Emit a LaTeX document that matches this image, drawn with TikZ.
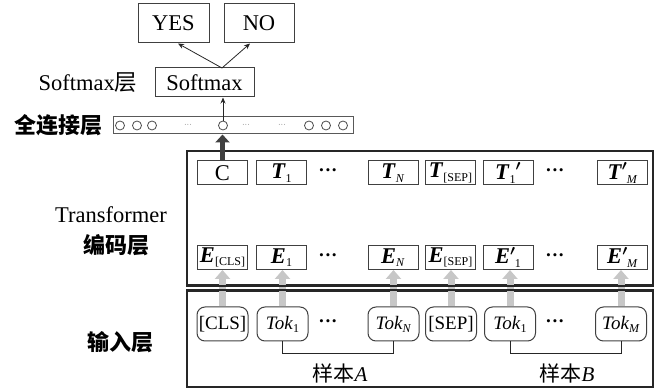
\documentclass[tikz,border=0pt]{standalone}
\usepackage{fontspec}
\setmainfont{Liberation Serif}
\newfontfamily\cjk{Noto Sans CJK SC}
\usetikzlibrary{arrows.meta,calc}
\newcommand\sbs[1]{\raisebox{-0.35ex}{\fontsize{12}{12}\selectfont #1}}
\newcommand\bi[1]{\textbf{\textit{#1}}}
\newcommand\prm{\raisebox{0.1ex}{\boldmath$'$}}
\newcommand\prsub[1]{\prm\hspace{-0.5pt}\sbs{#1}}
\begin{document}
\begin{tikzpicture}[x=1pt,y=-1pt,
  every node/.style={font=\fontsize{22.5}{26}\selectfont, inner sep=0pt},
  box/.style={draw=black!75, line width=1pt, minimum width=50pt, minimum height=24pt},
  tok/.style={draw=black!75, line width=1pt, rounded corners=8pt, minimum width=51pt, minimum height=34pt, font=\fontsize{19}{22}\selectfont},
  bigbox/.style={draw=black!85, line width=2pt},
  lbl/.style={font=\cjk\bfseries\fontsize{22}{26}\selectfont},
  circ/.style={circle, draw=black!70, line width=0.8pt, minimum size=9pt},
  thin/.style={draw=black!85, line width=0.8pt, -{Stealth[length=6pt,width=5pt]}},
  grayarrow/.style={draw=black!22, line width=7pt, -{Triangle[length=9pt,width=15pt]}},
  darkarrow/.style={draw=black!75, line width=5pt, -{Triangle[length=8pt,width=14pt]}},
  bardots/.style={font=\fontsize{8}{8}\selectfont, text=black!50},
  dots/.style={font=\fontsize{19}{22}\selectfont\bfseries}
]
\useasboundingbox (0,0) rectangle (657,390);

% output layer
\node[draw=black!75, line width=1pt, minimum width=71pt, minimum height=39pt] (yes) at (173.5,23.5) {YES};
\node[draw=black!75, line width=1pt, minimum width=70pt, minimum height=39pt] (no) at (259,23.5) {NO};
\node[draw=black!75, line width=1pt, minimum width=99pt, minimum height=29pt] (sm) at (204.5,82.5) {Softmax};
\node (smlbl) at (88,83) {Softmax{\cjk 层}};
\coordinate (fork) at (222,68);
\draw[thin] (fork) -- (yes.south -| 178,0);
\draw[thin] (fork) -- (no.south -| 250,0);

% fully connected layer
\node[draw=black!65, line width=1pt, minimum width=240pt, minimum height=17pt] (bar) at (233.5,125.5) {};
\node[lbl] (fclbl) at (59,125) {全连接层};
\node[circ] (c1) at (120,125.5) {};
\node[circ] (c2) at (137,125.5) {};
\node[circ] (c3) at (152,125.5) {};
\node[circ] (c4) at (223,125.5) {};
\node[circ] (c5) at (309,125.5) {};
\node[circ] (c6) at (326,125.5) {};
\node[circ] (c7) at (343,125.5) {};
\node[bardots] (bd1) at (188,125.5) {···};
\node[bardots] (bd2) at (246,125.5) {···};
\node[bardots] (bd3) at (282,125.5) {···};
\draw[thin] (c4.north) -- (c4.north |- sm.south);

% big boxes
\node[bigbox, minimum width=466pt, minimum height=134pt] (enc) at (420,218) {};
\node[bigbox, minimum width=466pt, minimum height=96pt] (inp) at (420,339) {};
\node (trlbl) at (111,215) {Transformer};
\node[lbl] (enclbl) at (116,245) {编码层};
\node[lbl] (inplbl) at (120,342) {输入层};

% tokens
\node[tok] (k1) at (222.5,324) {[CLS]};
\node[tok] (k2) at (282.5,324) {\textit{Tok}\sbs{1}};
\node[dots] (kd1) at (328,324) {···};
\node[tok] (k3) at (393.5,324) {\textit{Tok}\sbs{\textit{N}}};
\node[tok] (k4) at (451,324) {[SEP]};
\node[tok] (k5) at (510,324) {\textit{Tok}\sbs{1}};
\node[dots] (kd2) at (555,324) {···};
\node[tok] (k6) at (621,324) {\textit{Tok}\sbs{\textit{M}}};

% E row
\node[box] (e1) at (222.5,257.5) {\bi{E}\sbs{[CLS]}};
\node[box] (e2) at (281.5,257.5) {\bi{E}\sbs{1}};
\node[dots] (ed1) at (328,257.5) {···};
\node[box] (e3) at (393,257.5) {\bi{E}\sbs{\textit{N}}};
\node[box] (e4) at (450.5,257.5) {\bi{E}\sbs{[SEP]}};
\node[box] (e5) at (508,257.5) {\bi{E}\prsub{1}};
\node[dots] (ed2) at (555,257.5) {···};
\node[box] (e6) at (622.5,257.5) {\bi{E}\prsub{\textit{M}}};

% T row
\node[box] (t1) at (222.5,173) {C};
\node[box] (t2) at (281.5,173) {\bi{T}\sbs{1}};
\node[dots] (td1) at (328,173) {···};
\node[box] (t3) at (393,173) {\bi{T}\sbs{\textit{N}}};
\node[box] (t4) at (450.5,173) {\bi{T}\sbs{[SEP]}};
\node[box] (t5) at (508,173) {\bi{T}\sbs{1}\prm};
\node[dots] (td2) at (555,173) {···};
\node[box] (t6) at (622.5,173) {\bi{T}\prsub{\textit{M}}};

% arrows tokens -> E
\foreach \k/\e in {k1/e1,k2/e2,k3/e3,k4/e4,k5/e5,k6/e6}{
  \draw[grayarrow] (\k.north) -- (\k.north |- \e.south);
}
% redraw big box borders over arrows
\draw[black!85, line width=2pt] (enc.south west) -- (enc.south east);
\draw[black!85, line width=2pt] (inp.north west) -- (inp.north east);

% C -> bar
\draw[darkarrow] (t1.north) -- (t1.north |- bar.south);

% brackets
\draw[black!85, line width=1pt] (k2.south) -- ++(0,12) -| (k3.south);
\draw[black!85, line width=1pt] (k5.south) -- ++(0,12) -| (k6.south);
\node[font=\fontsize{21}{24}\selectfont] (sa) at (340,373) {{\cjk 样本}\textit{A}};
\node[font=\fontsize{21}{24}\selectfont] (sb) at (567,373) {{\cjk 样本}\textit{B}};
\end{tikzpicture}
\end{document}
